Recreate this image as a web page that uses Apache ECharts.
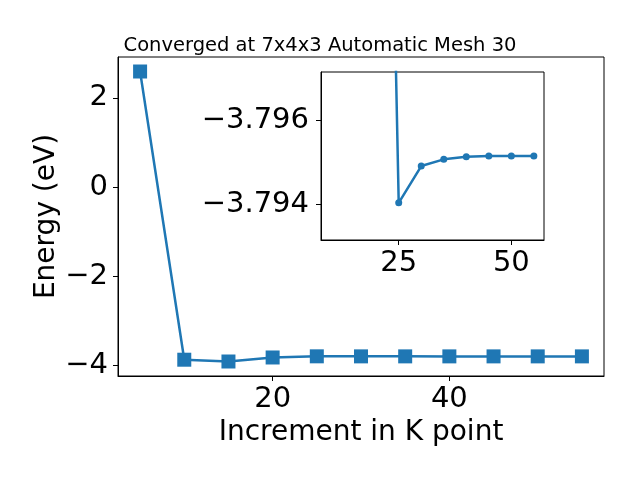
<!DOCTYPE html>
<html>
<head>
<meta charset="utf-8">
<script src="https://cdn.jsdelivr.net/npm/echarts@6/dist/echarts.min.js"></script>
<style>html,body{margin:0;padding:0;background:#fff}#c{width:640px;height:480px}</style>
</head>
<body>
<div id="c"></div>
<script>
// Data
const kPoints = [5, 10, 15, 20, 25, 30, 35, 40, 45, 50, 55];
const energies = [2.59, -3.87, -3.91, -3.82, -3.79403, -3.79491, -3.79507, -3.79513, -3.79515, -3.79515, -3.79515];
const insetK = [10, 15, 20, 25, 30, 35, 40, 45, 50, 55];
const insetE = [-3.87, -3.91, -3.82, -3.79403, -3.79491, -3.79507, -3.79513, -3.79515, -3.79515, -3.79515];
const mainXTicks = [20, 40];
const mainYTicks = [-4, -2, 0, 2];
const insetXTicks = [25, 50];
const insetYTicks = [-3.796, -3.794];
const titleText = 'Converged at 7x4x3 Automatic Mesh 30';
const xName = 'Increment in K point';
const yName = 'Energy (eV)';

const FONT = 'DejaVu Sans';
const COLOR = '#1f77b4';
const TICK_FS = 29;
const minus = s => String(s).replace('-', '\u2212');

const axisCommon = {
  axisLine: {show: true, onZero: false, lineStyle: {color: '#000', width: 1}},
  splitLine: {show: false}
};

const chart = echarts.init(document.getElementById('c'), null, {renderer: 'canvas'});
chart.setOption({
  animation: false,
  backgroundColor: '#fff',
  title: {
    text: titleText, left: 'center', top: 31,
    textStyle: {fontFamily: FONT, fontSize: 19.5, fontWeight: 'normal', color: '#000'}
  },
  grid: [
    {left: 118, top: 57, width: 486, height: 319, show: true, borderColor: '#000', borderWidth: 1, backgroundColor: '#fff'},
    {left: 321, top: 72, width: 223, height: 168, show: true, borderColor: '#000', borderWidth: 1, backgroundColor: '#fff'}
  ],
  xAxis: [
    Object.assign({}, axisCommon, {
      type: 'value', gridIndex: 0, min: 2.5, max: 57.5,
      axisTick: {show: true, length: 5, lineStyle: {color: '#000'}, customValues: mainXTicks},
      axisLabel: {customValues: mainXTicks, fontFamily: FONT, fontSize: TICK_FS, color: '#000', margin: 9},
      name: xName, nameLocation: 'middle', nameGap: 43, nameMoveOverlap: false,
      nameTextStyle: {fontFamily: FONT, fontSize: 28, color: '#000'}
    }),
    Object.assign({}, axisCommon, {
      type: 'value', gridIndex: 1, min: 7.75, max: 57.25,
      axisTick: {show: true, length: 5, lineStyle: {color: '#000'}, customValues: insetXTicks},
      axisLabel: {customValues: insetXTicks, fontFamily: FONT, fontSize: TICK_FS, color: '#000', margin: 9}
    })
  ],
  yAxis: [
    Object.assign({}, axisCommon, {
      type: 'value', gridIndex: 0, min: -4.235, max: 2.915,
      axisTick: {show: true, length: 5, lineStyle: {color: '#000'}, customValues: mainYTicks},
      axisLabel: {customValues: mainYTicks, fontFamily: FONT, fontSize: TICK_FS, color: '#000', margin: 10,
                  formatter: v => minus(v)},
      name: yName, nameLocation: 'middle', nameGap: 57, nameMoveOverlap: false,
      nameTextStyle: {fontFamily: FONT, fontSize: 28, color: '#000'}
    }),
    Object.assign({}, axisCommon, {
      type: 'value', gridIndex: 1, inverse: true, min: -3.79716, max: -3.79314,
      axisTick: {show: true, length: 5, lineStyle: {color: '#000'}, customValues: insetYTicks},
      axisLabel: {customValues: insetYTicks, fontFamily: FONT, fontSize: TICK_FS, color: '#000', margin: 12,
                  formatter: v => minus(v.toFixed(3))}
    })
  ],
  series: [
    {
      type: 'line', xAxisIndex: 0, yAxisIndex: 0,
      data: kPoints.map((k, i) => [k, energies[i]]),
      symbol: 'rect', symbolSize: 14,
      itemStyle: {color: COLOR}, lineStyle: {color: COLOR, width: 2.5},
      clip: true, z: 2
    },
    {
      type: 'line', xAxisIndex: 1, yAxisIndex: 1,
      data: insetK.map((k, i) => [k, insetE[i]]),
      symbol: 'circle', symbolSize: 7,
      itemStyle: {color: COLOR}, lineStyle: {color: COLOR, width: 2.5},
      clip: true, z: 5
    }
  ]
});
</script>
</body>
</html>
